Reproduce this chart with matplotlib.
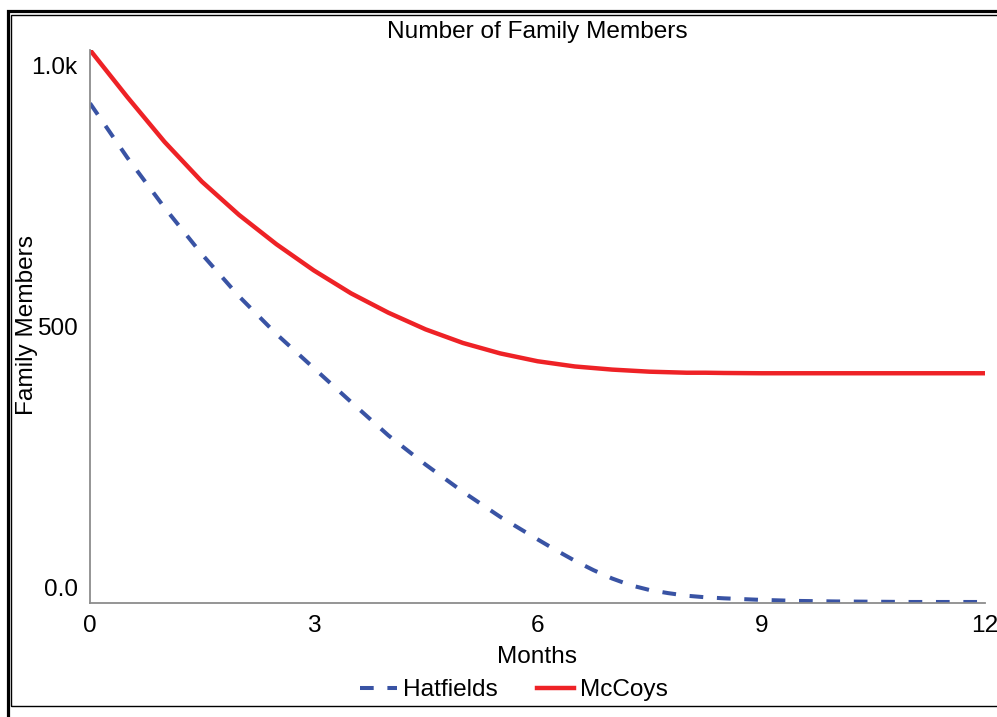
import matplotlib
matplotlib.use("Agg")
import matplotlib.pyplot as plt
import matplotlib.transforms as mtransforms
from matplotlib.patches import Rectangle

plt.rcParams['font.family'] = ['Liberation Sans', 'DejaVu Sans']

# data (months, family members)
months = [0, 0.5, 1, 1.5, 2, 2.5, 3, 3.5, 4, 4.5, 5, 5.5, 6, 6.25, 6.5, 6.75,
          7, 7.25, 7.5, 7.75, 8, 8.25, 8.5, 9, 9.5, 10, 10.5, 11, 11.5, 12]
hatfields = [956, 852, 756, 667, 586, 514, 449, 384, 320, 264, 212, 164, 121, 100, 80, 62,
             46, 33, 24, 18, 13, 10, 8, 5, 3, 2, 1.5, 1, 1, 1]
mccoys = [1058, 968, 882, 806, 742, 686, 636, 592, 555, 523, 497, 477, 462, 457, 452, 449,
          446, 444, 442, 441, 440, 440, 439.5, 439, 439, 439, 439, 439, 439, 439]

x_ticks = [0, 3, 6, 9, 12]
y_ticks = [0, 500, 1000]
y_ticklabels = ["0.0", "500", "1.0k"]

W, H = 997, 717
fig = plt.figure(figsize=(W / 100, H / 100), dpi=100)
ax = fig.add_axes([90 / W, 1 - 602.5 / H, 895 / W, 552.5 / H])

blue = "#3953a4"
red = "#ee2226"
fs = 17.6

ax.plot(months, hatfields, color=blue, lw=2.9, dashes=(3.4, 3.4), label="Hatfields",
        dash_capstyle="butt", dash_joinstyle="round")
ax.plot(months, mccoys, color=red, lw=3.2, label="McCoys", solid_joinstyle="round")

ax.set_xlim(0, 12)
ax.set_ylim(0, 1058)
ax.set_xticks(x_ticks)
ax.set_xticklabels([str(v) for v in x_ticks])
ax.set_yticks(y_ticks)
ax.set_yticklabels(y_ticklabels)
ax.tick_params(length=0, labelsize=fs)
ax.tick_params(axis="x", pad=9)
ax.tick_params(axis="y", pad=9)

# y tick labels sit a little above their values in the reference
off = mtransforms.ScaledTranslation(0, 15 / 100, fig.dpi_scale_trans)
for lab in ax.get_yticklabels():
    lab.set_transform(lab.get_transform() + off)

for s in ["top", "right"]:
    ax.spines[s].set_visible(False)
for s in ["left", "bottom"]:
    ax.spines[s].set_color("#8c8c8c")
    ax.spines[s].set_linewidth(1.3)

fig.text(537 / W, 1 - 32 / H, "Number of Family Members", ha="center", va="center", fontsize=fs)
fig.text(537 / W, 1 - 657 / H, "Months", ha="center", va="center", fontsize=fs)
fig.text(27 / W, 1 - 325 / H, "Family Members", ha="center", va="center",
         rotation=90, fontsize=fs)

fig.legend(loc="center", bbox_to_anchor=(514 / W, 1 - 690 / H), ncol=2, frameon=False,
           fontsize=fs, handlelength=1.5, handletextpad=0.25, columnspacing=1.6,
           borderpad=0)

# double frame around the chart (cut off on the right and bottom)
fig.add_artist(Rectangle((7.5 / W, -0.1), 1.2, 1.1 - 11.5 / H, transform=fig.transFigure,
                         fill=False, lw=2.3, edgecolor="black"))
fig.add_artist(Rectangle((10.8 / W, 1 - 705.7 / H), 1.2, (705.7 - 14.8) / H,
                         transform=fig.transFigure, fill=False, lw=1.0, edgecolor="black"))

fig.savefig("out.png", dpi=100)
